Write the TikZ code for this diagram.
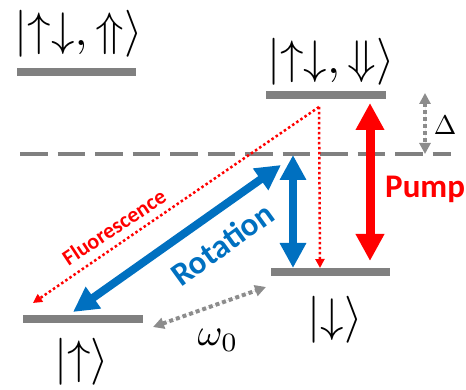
\documentclass[tikz,border=0pt]{standalone}
\usepackage{fontspec}
\newfontfamily\calib{Carlito}
\usetikzlibrary{arrows.meta}
\definecolor{lvlgray}{RGB}{128,128,128}
\definecolor{dotgray}{RGB}{140,140,140}
\definecolor{rotblue}{RGB}{0,112,192}
\definecolor{pumpred}{RGB}{255,0,0}
\tikzset{
  level/.style={draw=lvlgray, line width=8pt},
  statelabel/.style={inner sep=0pt, scale=4.7},
  bigarrow/.style={line width=9pt, {Triangle[length=27pt,width=27pt]}-{Triangle[length=27pt,width=27pt]}},
  bluearrow/.style={draw=rotblue, line width=8pt, {Triangle[length=25pt,width=25pt]}-{Triangle[length=25pt,width=25pt]}},
  fluor/.style={draw=pumpred, line width=2.5pt, dash pattern=on 2.5pt off 2.5pt, -{Triangle[length=9pt,width=9pt]}},
  grayarrow/.style={draw=dotgray, line width=4pt, dash pattern=on 4pt off 3pt, {Triangle[length=11pt,width=11pt]}-{Triangle[length=11pt,width=11pt]}},
  boldlabel/.style={inner sep=0pt, font=\calib\bfseries\fontsize{33}{33}\selectfont}
}
\begin{document}
\begin{tikzpicture}[x=1pt,y=1pt]
\useasboundingbox (0,0) rectangle (466,390);
% levels
\draw[level] (17,318) -- (136,318);
\draw[level] (266,295) -- (386,295);
\draw[level] (23,71) -- (143,71);
\draw[level] (271,118) -- (390,118);
% virtual level
\draw[draw=lvlgray, line width=4pt, dash pattern=on 27.5pt off 10pt] (20,236) -- (451,236);
% state labels
\node[statelabel] (s1) at (78.5,356) {$|{\uparrow}{\downarrow},{\Uparrow}\rangle$};
\node[statelabel] (s2) at (331,328) {$|{\uparrow}{\downarrow},{\Downarrow}\rangle$};
\node[statelabel] (s3) at (81.5,28) {$|{\uparrow}\rangle$};
\node[statelabel] (s4) at (335,70) {$|{\downarrow}\rangle$};
% arrow end points
\coordinate (pumpA) at (370,129);
\coordinate (pumpB) at (370,287);
\coordinate (vA) at (293,122);
\coordinate (vB) at (293,235);
\coordinate (dA) at (73,78);
\coordinate (dB) at (281,225);
\coordinate (fTop) at (319,283);
\coordinate (fL) at (33,87);
\coordinate (fD) at (320,122);
\coordinate (wA) at (153,63);
\coordinate (wB) at (266,103);
\coordinate (DA) at (425,297);
\coordinate (DB) at (425,236);
% fluorescence
\draw[fluor] (fTop) -- (fL);
\draw[fluor] (fTop) -- (fD);
% pump
\draw[bigarrow, draw=pumpred, fill=pumpred] (pumpA) -- (pumpB);
% rotation
\draw[bluearrow, fill=rotblue] (vA) -- (vB);
\draw[bluearrow, fill=rotblue] (dA) -- (dB);
% gray
\draw[grayarrow, fill=dotgray] (wA) -- (wB);
\draw[grayarrow, fill=dotgray] (DA) -- (DB);
% labels
\node[boldlabel, text=pumpred, anchor=base west] (pump) at (385,192) {Pump};
\node[boldlabel, text=rotblue, rotate=36] (rot) at (222,146) {Rotation};
\node[inner sep=0pt, font=\calib\bfseries\fontsize{22}{22}\selectfont, text=pumpred, rotate=33.5] (fl) at (114,163) {Fluorescence};
\node[inner sep=0pt, scale=3.8] (w0) at (218,50) {$\omega_0$};
\node[inner sep=0pt, scale=2.7] (Dl) at (445,265) {$\Delta$};
\end{tikzpicture}
\end{document}
